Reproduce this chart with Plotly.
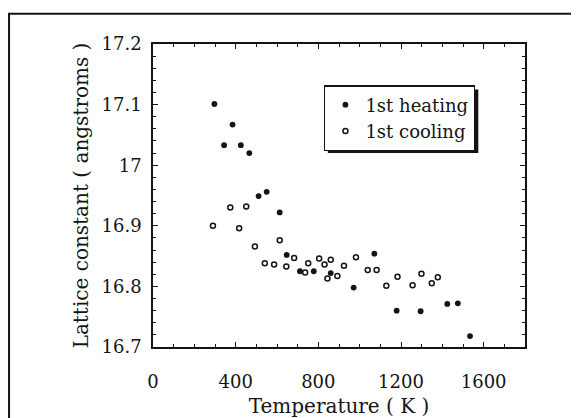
import plotly.graph_objects as go

# ---- data ----
T_heating = [297, 344, 385, 425, 466, 511, 550, 613, 647, 711, 778, 860, 971, 1071, 1179, 1295, 1424, 1475, 1534]
a_heating = [17.101, 17.033, 17.067, 17.033, 17.020, 16.949, 16.956, 16.922, 16.852, 16.825,
             16.825, 16.822, 16.798, 16.854, 16.760, 16.759, 16.771, 16.772, 16.718]

T_cooling = [290, 374, 417, 451, 493, 541, 586, 613, 645, 683, 736, 751, 804, 830, 844, 860, 892,
             924, 982, 1039, 1082, 1129, 1183, 1256, 1299, 1349, 1378]
a_cooling = [16.900, 16.930, 16.896, 16.932, 16.866, 16.838, 16.836, 16.876, 16.833, 16.847,
             16.823, 16.838, 16.846, 16.836, 16.813, 16.844, 16.817, 16.834, 16.848, 16.827,
             16.827, 16.801, 16.816, 16.802, 16.821, 16.805, 16.815]

x_tickvals = [0, 400, 800, 1200, 1600]
x_ticktext = ["0", "400", "800", "1200", "1600"]
y_tickvals = [16.7, 16.8, 16.9, 17.0, 17.1, 17.2]
y_ticktext = ["16.7", "16.8", "16.9", "17", "17.1", "17.2"]

INK = "#141414"
FONT = "DejaVu Serif"

fig = go.Figure()
fig.add_trace(go.Scatter(
    x=T_heating, y=a_heating, mode="markers", name="1st heating",
    marker=dict(symbol="circle", size=5.8, color=INK),
))
fig.add_trace(go.Scatter(
    x=T_cooling, y=a_cooling, mode="markers", name="1st cooling",
    marker=dict(symbol="circle-open", size=5, color=INK, line=dict(width=1.5, color=INK)),
))

axis_common = dict(
    showline=True, linewidth=1.5, linecolor=INK, mirror="ticks",
    ticks="inside", ticklen=5, tickwidth=1.2, tickcolor=INK,
    showgrid=False, zeroline=False,
    tickfont=dict(family=FONT, size=18, color=INK),
)

fig.update_xaxes(
    **axis_common,
    range=[0, 1800], tickmode="array", tickvals=x_tickvals, ticktext=x_ticktext,
    minor=dict(ticks="inside", dtick=100, tick0=0, ticklen=3, tickwidth=1, tickcolor=INK),
    ticklabelstandoff=18,
    title=dict(text="Temperature ( K )", font=dict(family=FONT, size=20, color=INK), standoff=8),
)
fig.update_yaxes(
    **axis_common,
    range=[16.7, 17.2], tickmode="array", tickvals=y_tickvals, ticktext=y_ticktext,
    minor=dict(ticks="inside", dtick=0.02, tick0=16.7, ticklen=3, tickwidth=1, tickcolor=INK),
    ticklabelstandoff=6,
    title=dict(text="Lattice constant ( angstroms )", font=dict(family=FONT, size=20, color=INK), standoff=8),
)

# outer frame around the figure
fig.add_shape(type="rect", xref="paper", yref="paper",
              x0=-0.387, x1=1.142, y0=-0.35, y1=1.1,
              line=dict(color=INK, width=2), fillcolor="rgba(0,0,0,0)")

# drop shadow behind the legend box (legend is drawn on top of it)
fig.add_shape(type="rect", xref="paper", yref="paper", layer="above",
              x0=0.47, x1=0.8745, y0=0.64, y1=0.85,
              line=dict(width=0), fillcolor=INK)

fig.update_layout(
    width=579, height=418,
    margin=dict(l=145, r=62, t=36, b=61),
    paper_bgcolor="white", plot_bgcolor="white",
    showlegend=True,
    legend=dict(
        x=0.46, y=0.864, xanchor="left", yanchor="top",
        bgcolor="white", bordercolor=INK, borderwidth=1.3,
        font=dict(family=FONT, size=18, color=INK),
        itemsizing="trace", tracegroupgap=0,
    ),
)

fig.write_html("out.html")
